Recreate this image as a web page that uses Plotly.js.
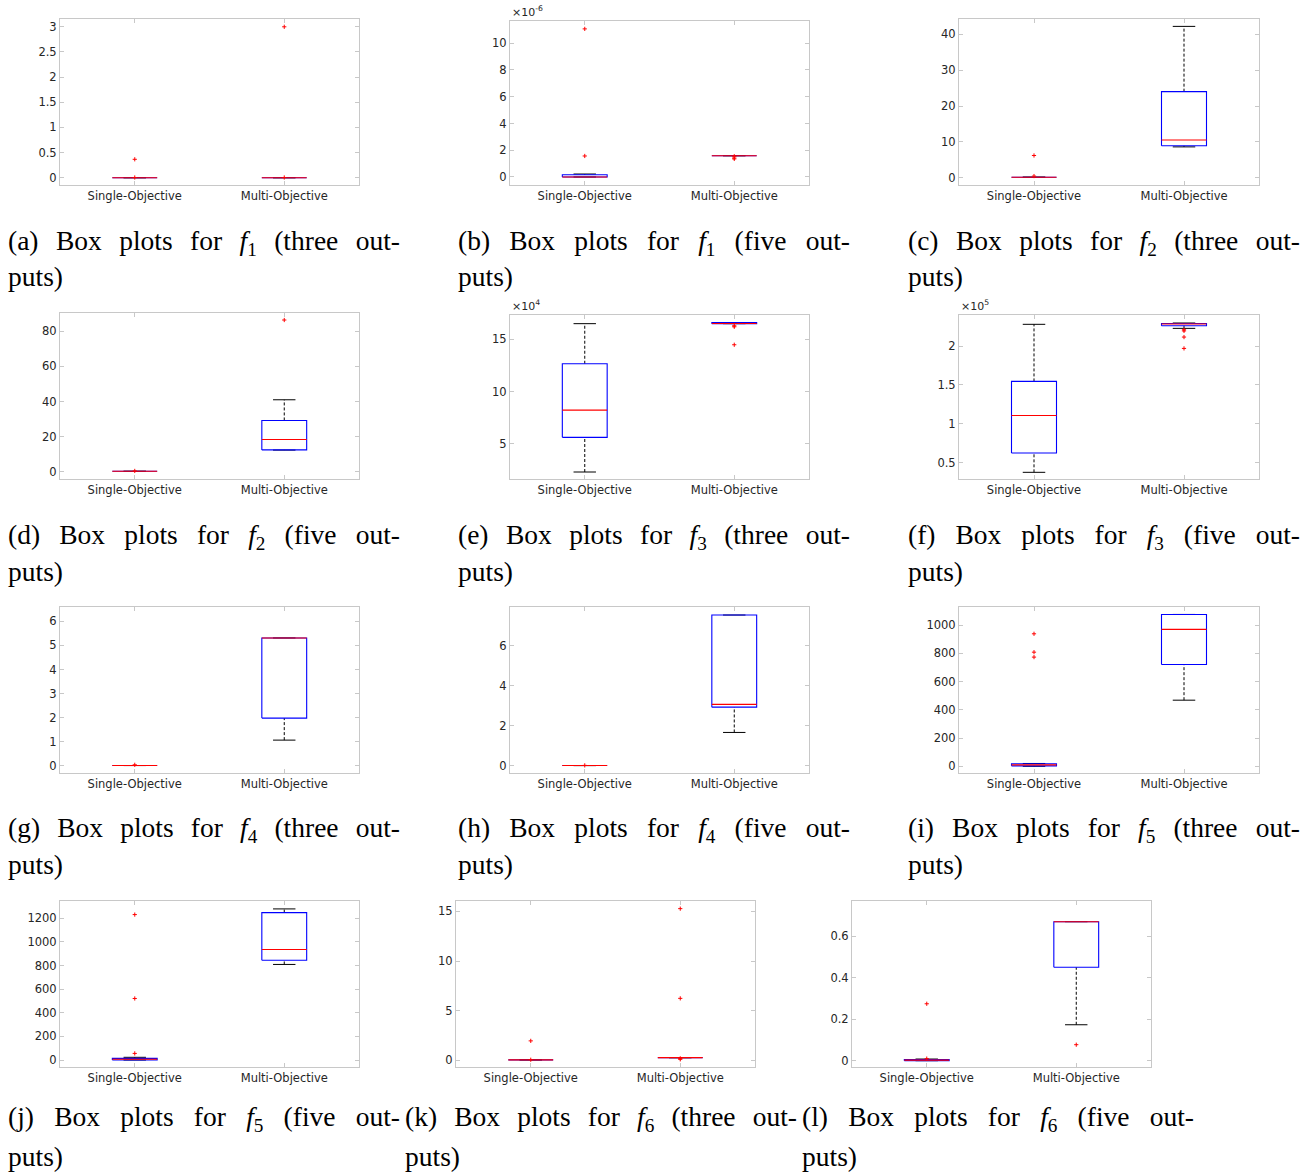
<!DOCTYPE html>
<html><head><meta charset="utf-8">
<script src="https://cdn.plot.ly/plotly-3.0.1.min.js"></script>
<style>html,body{margin:0;padding:0;background:#fff}#chart{width:1312px;height:1176px}</style>
</head><body><div id="chart"></div>
<script>
// ---------- data (display units; multiply by valueScale) ----------
const panelLetters = ['a','b','c','d','e','f','g','h','i','j','k','l'];
const fnIndex = [1,1,2,2,3,3,4,4,5,5,6,6];
const outputsWord = ['three','five','three','five','three','five','three','five','three','five','three','five'];
const groups = ['Single-Objective','Multi-Objective'];
const valueScale = [1,1e-6,1,1,1e4,1e5,1,1,1,1,1,1];
const exponentLabel = ['','-6','','','4','5','','','','','',''];

const singleLowerWhisker = [0, 0,    0.15, 0.2, 2.29,  0.375, 0.01, 0.02, 0,    0,  0.05, 0];
const singleQ1           = [0, 0,    0.15, 0.2, 5.61,  0.624, 0.01, 0.02, 3,    0,  0.05, 0];
const singleMedian       = [0, 0,    0.15, 0.2, 8.22,  1.106, 0.01, 0.02, 10,   6,  0.05, 0.003];
const singleQ3           = [0, 0.17, 0.15, 0.2, 12.66, 1.545, 0.01, 0.02, 18.4, 14, 0.05, 0.005];
const singleUpperWhisker = [0, 0.22, 0.15, 0.2, 16.5,  2.28,  0.01, 0.02, 20,   23, 0.05, 0.008];
const singleOutliers = [[0.366,0.004],[11.07,1.57],[6.2,0.46],[0.4],[],[],[0.04],[0.03],[938,808,773],[1231,521,56],[1.96,0.06],[0.274,0.01]];

const multiLowerWhisker = [0, 1.59, 8.6,  12.3, 16.5,  2.228, 1.066, 1.67, 468,   809,   0.27, 0.173];
const multiQ1           = [0, 1.59, 8.9,  12.4, 16.5,  2.262, 1.98,  2.93, 720.6, 845,   0.27, 0.4495];
const multiMedian       = [0, 1.59, 10.5, 18.3, 16.52, 2.285, 5.31,  3.07, 969,   935.5, 0.27, 0.669];
const multiQ3           = [0, 1.59, 24.0, 29.2, 16.6,  2.29,  5.31,  7.52, 1075,  1248,  0.27, 0.669];
const multiUpperWhisker = [0, 1.59, 42.2, 41.0, 16.6,  2.297, 5.31,  7.52, 1075,  1279,  0.27, 0.669];
const multiOutliers = [[3.0,0.004],[1.55,1.42,1.35],[],[86.5],[16.3,16.2,14.48],[2.21,2.195,2.116,1.97],[],[],[],[],[15.27,6.24,0.2,0.1],[0.077]];

const yTicks = [[0,0.5,1,1.5,2,2.5,3],[0,2,4,6,8,10],[0,10,20,30,40],[0,20,40,60,80],[5,10,15],[0.5,1,1.5,2],[0,1,2,3,4,5,6],[0,2,4,6],[0,200,400,600,800,1000],[0,200,400,600,800,1000,1200],[0,5,10,15],[0,0.2,0.4,0.6]];
const yRanges = [[-0.145,3.155],[-0.6,11.66],[-2.03,44.26],[-4.2,90.5],[1.62,17.33],[0.289,2.40],[-0.30,6.595],[-0.35,7.92],[-47.5,1127.7],[-59,1346],[-0.67,16.04],[-0.0303,0.7686]];

// ---------- layout geometry (pixels) ----------
const W = 1312, H = 1176;
const panelFrames = [[60,19,359,185],[510,21,809,185],[959,19,1259,185],
                     [60,313,359,479],[510,315,809,479],[959,315,1259,479],
                     [60,607,359,773],[510,607,809,773],[959,607,1259,773],
                     [60,901,359,1067],[456,901,755,1067],[852,901,1151,1067]];
const captionLeft = [8,458,908,8,458,908,8,458,908,8,405,802];
const captionLine1Y = [242,536,830,1118];
const captionLine2Y = [277,571,864,1156];
const CAPTION_WIDTH = 392;
const CAPTION_FONT = {family:'Liberation Serif', size:27.5, color:'#000'};
const BOX_HALF = 0.15, CAP_HALF = 0.075;

const axisStyle = {showline:true, linecolor:'#c8c8c8', linewidth:1, mirror:'ticks', ticks:'inside', ticklen:4,
  tickcolor:'#c8c8c8', tickwidth:1, showgrid:false, zeroline:false, fixedrange:true,
  tickfont:{family:'DejaVu Sans', size:11.5, color:'#262626'}};

const data = [];
const layout = {width:W, height:H, margin:{l:0,r:0,t:0,b:0}, showlegend:false,
  paper_bgcolor:'#fff', plot_bgcolor:'#fff', annotations:[]};
const captionIdx = [];

panelLetters.forEach((letter, p) => {
  const ax = p === 0 ? '' : String(p + 1);
  const xa = 'x' + ax, ya = 'y' + ax;
  const s = valueScale[p];
  const [L, T, R, B] = panelFrames[p];
  layout['xaxis' + ax] = Object.assign({}, axisStyle, {domain:[L/W, R/W], anchor:ya, range:[0.5,2.5],
    tickvals:[1,2], ticktext:groups});
  layout['yaxis' + ax] = Object.assign({}, axisStyle, {domain:[1-B/H, 1-T/H], anchor:xa,
    range:yRanges[p].map(v => v*s), tickvals:yTicks[p].map(v => v*s), ticktext:yTicks[p].map(String)});

  const stats = [
    [singleLowerWhisker[p], singleQ1[p], singleMedian[p], singleQ3[p], singleUpperWhisker[p], singleOutliers[p]],
    [multiLowerWhisker[p], multiQ1[p], multiMedian[p], multiQ3[p], multiUpperWhisker[p], multiOutliers[p]]
  ];
  const wx=[],wy=[],cx=[],cy=[],bx=[],by=[],mx=[],my=[],ox=[],oy=[];
  stats.forEach(([lo,q1,md,q3,hi,outs], g) => {
    const c = g + 1;
    wx.push(c,c,null,c,c,null); wy.push(q3*s,hi*s,null,lo*s,q1*s,null);
    cx.push(c-CAP_HALF,c+CAP_HALF,null,c-CAP_HALF,c+CAP_HALF,null); cy.push(hi*s,hi*s,null,lo*s,lo*s,null);
    bx.push(c-BOX_HALF,c+BOX_HALF,c+BOX_HALF,c-BOX_HALF,c-BOX_HALF,null); by.push(q1*s,q1*s,q3*s,q3*s,q1*s,null);
    mx.push(c-BOX_HALF,c+BOX_HALF,null); my.push(md*s,md*s,null);
    outs.forEach(v => { ox.push(c); oy.push(v*s); });
  });
  const common = {type:'scatter', xaxis:xa, yaxis:ya, hoverinfo:'skip', cliponaxis:true};
  data.push(Object.assign({}, common, {mode:'lines', x:wx, y:wy, line:{color:'#000', width:1, dash:'3px,2px'}}));
  data.push(Object.assign({}, common, {mode:'lines', x:cx, y:cy, line:{color:'#000', width:1}}));
  data.push(Object.assign({}, common, {mode:'lines', x:bx, y:by, line:{color:'#0000ff', width:1.1}}));
  data.push(Object.assign({}, common, {mode:'lines', x:mx, y:my, line:{color:'#ff0000', width:1.1}}));
  data.push(Object.assign({}, common, {mode:'markers', x:ox, y:oy,
    marker:{symbol:'cross-thin', size:3, color:'#ff0000', line:{color:'#ff0000', width:1}}}));

  if (exponentLabel[p]) {
    layout.annotations.push({xref:'paper', yref:'paper', x:(L+1)/W, y:1-(T-1)/H, xanchor:'left', yanchor:'bottom',
      showarrow:false, text:'×10<sup>' + exponentLabel[p] + '</sup>', borderpad:0,
      font:{family:'DejaVu Sans', size:11, color:'#262626'}});
  }
  const row = Math.floor(p / 3);
  captionIdx.push([layout.annotations.length, captionLeft[p], true]);
  layout.annotations.push({xref:'paper', yref:'paper', x:captionLeft[p]/W, y:1-captionLine1Y[row]/H,
    xanchor:'left', yanchor:'middle', showarrow:false, borderpad:0,
    text:'(' + letter + ') Box plots for <i>f</i><sub>' + fnIndex[p] + '</sub> (' + outputsWord[p] + ' out-',
    font:CAPTION_FONT});
  captionIdx.push([layout.annotations.length, captionLeft[p], false]);
  layout.annotations.push({xref:'paper', yref:'paper', x:captionLeft[p]/W, y:1-captionLine2Y[row]/H,
    xanchor:'left', yanchor:'middle', showarrow:false, borderpad:0, text:'puts)',
    font:CAPTION_FONT});
});

Plotly.newPlot('chart', data, layout, {staticPlot:true}).then(gd => {
  // justify caption first lines like the LaTeX original, keeping the left edge fixed
  captionIdx.forEach(([i, leftPx, justify]) => {
    const g = gd.querySelector('.annotation[data-index="' + i + '"]');
    if (!g) return;
    const t = g.querySelector('text');
    if (!t) return;
    const before = t.getBoundingClientRect();
    if (justify) {
      const spaces = (t.textContent.match(/ /g) || []).length;
      if (spaces > 0 && before.width < CAPTION_WIDTH)
        t.style.wordSpacing = ((CAPTION_WIDTH - before.width) / spaces) + 'px';
    }
    const after = t.getBoundingClientRect();
    const dx = leftPx - after.left;
    const prev = t.getAttribute('transform') || '';
    t.setAttribute('transform', prev + ' translate(' + dx + ',0)');
  });
});
</script></body></html>
